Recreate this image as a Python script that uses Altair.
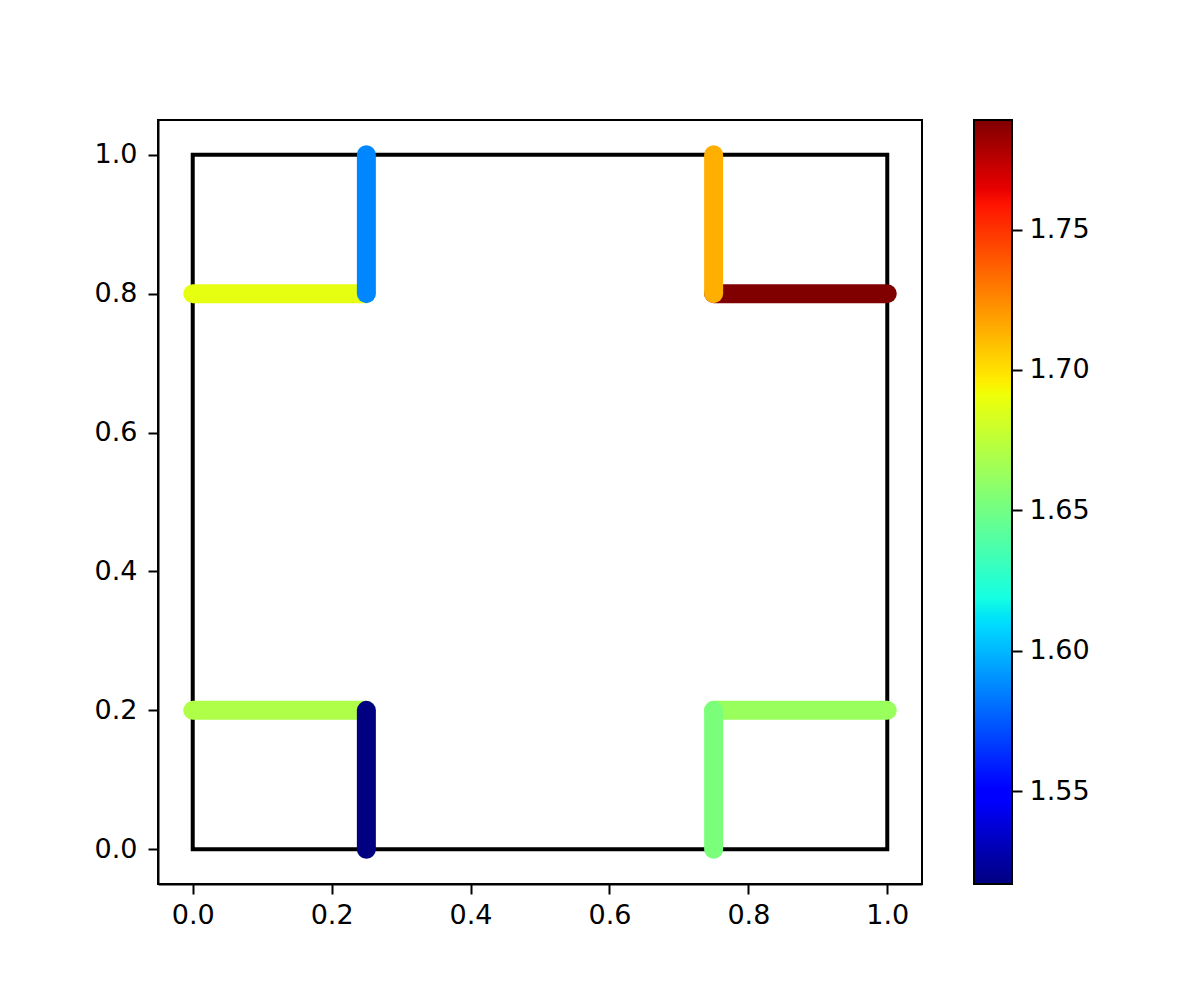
import altair as alt
import numpy as np
import pandas as pd

# ---- data ----
seg_x1 = [0.0, 0.0, 0.75, 0.75, 0.25, 0.25, 0.75, 0.75]
seg_x2 = [0.25, 0.25, 1.0, 1.0, 0.25, 0.25, 0.75, 0.75]
seg_y1 = [0.2, 0.8, 0.8, 0.2, 0.0, 0.8, 0.8, 0.0]
seg_y2 = [0.2, 0.8, 0.8, 0.2, 0.2, 1.0, 1.0, 0.2]
seg_value = [1.670, 1.688, 1.789, 1.663, 1.517, 1.587, 1.714, 1.653]
seg_order = [0, 1, 2, 3, 4, 5, 6, 7]

square_x = [0.0, 1.0, 1.0, 0.0, 0.0]
square_y = [0.0, 0.0, 1.0, 1.0, 0.0]
square_order = [0, 1, 2, 3, 4]

x_ticks = [0.0, 0.2, 0.4, 0.6, 0.8, 1.0]
y_ticks = [0.0, 0.2, 0.4, 0.6, 0.8, 1.0]
cbar_ticks = [1.55, 1.60, 1.65, 1.70, 1.75]
vmin = min(seg_value)
vmax = max(seg_value)

# ---- jet colormap (style) ----
jet_t = [0.0, 0.11, 0.125, 0.34, 0.35, 0.375, 0.5, 0.64, 0.65, 0.66, 0.89, 0.91, 1.0]
_r = ([0, 0.35, 0.66, 0.89, 1], [0, 0, 1, 1, 0.5])
_g = ([0, 0.125, 0.375, 0.64, 0.91, 1], [0, 0, 1, 1, 0, 0])
_b = ([0, 0.11, 0.34, 0.65, 1], [0.5, 1, 1, 0, 0])


def _hex(t):
    r = np.interp(t, *_r)
    g = np.interp(t, *_g)
    b = np.interp(t, *_b)
    return "#%02x%02x%02x" % (int(round(r * 255)), int(round(g * 255)), int(round(b * 255)))


jet_colors = [_hex(t) for t in jet_t]
color_domain = [vmin + t * (vmax - vmin) for t in jet_t]

segs = pd.DataFrame({"x1": seg_x1, "x2": seg_x2, "y1": seg_y1, "y2": seg_y2,
                     "v": seg_value, "o": seg_order})
square = pd.DataFrame({"x": square_x, "y": square_y, "o": square_order})

FONT = "DejaVu Sans"
xscale = alt.Scale(domain=[-0.05, 1.05], nice=False, zero=False)
yscale = alt.Scale(domain=[-0.05, 1.05], nice=False, zero=False)

axis_common = dict(grid=False, title=None, tickColor="black", tickWidth=2, tickSize=10,
                   labelColor="black", labelFont=FONT, labelFontSize=27,
                   domainColor="black", domainWidth=2, labelFlush=False)

sq = alt.Chart(square).mark_line(color="black", strokeWidth=4, strokeJoin="miter",
                                 strokeCap="square").encode(
    x=alt.X("x:Q", scale=xscale,
            axis=alt.Axis(values=x_ticks, format=".1f", labelPadding=8, **axis_common)),
    y=alt.Y("y:Q", scale=yscale,
            axis=alt.Axis(values=y_ticks, format=".1f", labelPadding=11, **axis_common)),
    order="o:Q",
)

pts = alt.Chart(segs).mark_rule(strokeWidth=19, strokeCap="round").encode(
    x=alt.X("x1:Q", scale=xscale),
    x2="x2:Q",
    y=alt.Y("y1:Q", scale=yscale),
    y2="y2:Q",
    color=alt.Color("v:Q", scale=alt.Scale(domain=color_domain, range=jet_colors,
                                           interpolate="rgb"), legend=None),
    order="o:Q",
)

main = alt.layer(sq, pts).properties(width=764, height=764)

gradient = alt.Gradient(
    gradient="linear",
    stops=[alt.GradientStop(color=c, offset=t) for c, t in zip(jet_colors, jet_t)],
    x1=0, x2=0, y1=1, y2=0,
)
cbar_df = pd.DataFrame({"lo": [vmin], "hi": [vmax]})
cbar = alt.Chart(cbar_df).mark_rect(color=gradient, stroke="black", strokeWidth=2).encode(
    x=alt.value(0),
    x2=alt.value(38),
    y=alt.Y("lo:Q", scale=alt.Scale(domain=[vmin, vmax], nice=False, zero=False),
            axis=alt.Axis(orient="right", values=cbar_ticks, format=".2f", labelPadding=7,
                          domain=False, **{k: v for k, v in axis_common.items()
                                           if not k.startswith("domain")})),
    y2="hi:Q",
).properties(width=38, height=764)

chart = alt.hconcat(main, cbar, spacing=49).properties(
    padding={"left": 85, "top": 110, "right": 5, "bottom": 5},
    background="white",
).configure_view(stroke="black", strokeWidth=2)

chart.save("out.html", embed_options={"renderer": "svg", "actions": False})
